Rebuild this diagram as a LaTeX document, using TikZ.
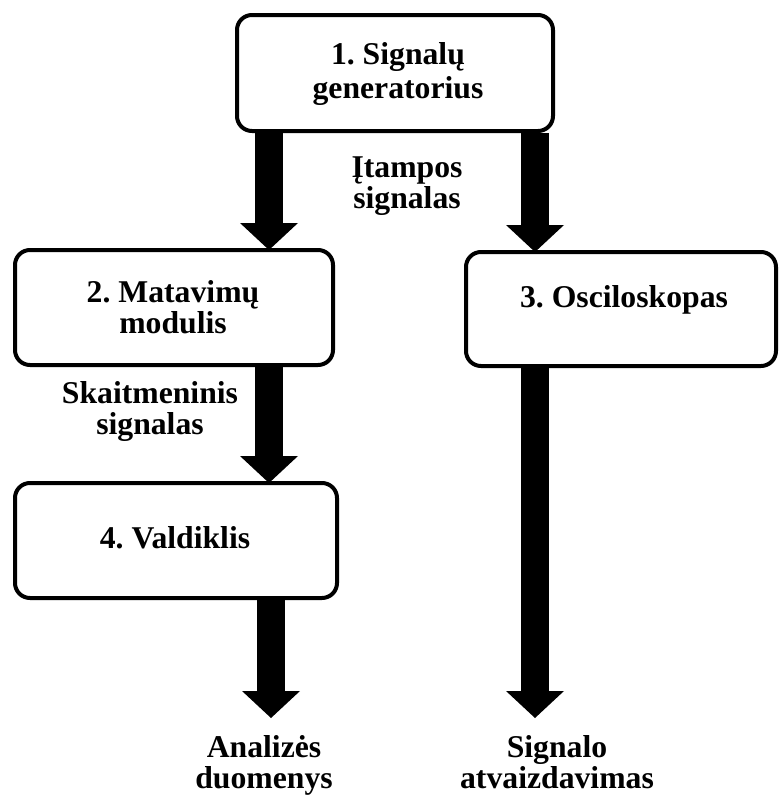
\documentclass[tikz,border=0pt]{standalone}
\usepackage{fontspec}
\setmainfont{Liberation Serif}
\usetikzlibrary{arrows.meta}
\frenchspacing
\newcommand\mytwo[3][0pt]{\begin{tabular}[t]{@{}c@{}}#2\\[#1]#3\end{tabular}}
\begin{document}
\begin{tikzpicture}[x=1pt,y=-1pt,
  box/.style={draw=black, line width=4pt, rounded corners=15pt, fill=white, inner sep=0pt},
  lbl/.style={anchor=base, inner sep=0pt, font=\fontsize{31.7}{31.5}\selectfont\bfseries},
  bigarrow/.style={line width=28pt, line cap=butt,
    -{Triangle[width=58pt,length=27pt,line width=0pt]}}]
\useasboundingbox (0,0) rectangle (779,798);
% boxes
\node[box, minimum width=316pt, minimum height=116pt] (b1) at (395,73) {};
\node[box, minimum width=318pt, minimum height=115pt] (b2) at (174,307.5) {};
\node[box, minimum width=310pt, minimum height=114pt] (b3) at (621,309) {};
\node[box, minimum width=322pt, minimum height=115pt] (b4) at (176,540.5) {};
% column guides and free ends
\coordinate (cA) at (269,0);
\coordinate (cB) at (535,0);
\coordinate (cC) at (271,0);
\coordinate (e4) at (271,718);
\coordinate (e3) at (535,718);
% arrows
\draw[bigarrow, shorten >=-2pt] (b1.south -| cA) -- (b2.north -| cA);
\draw[bigarrow, shorten >=-2pt] (b1.south -| cB) -- (b3.north -| cB);
\draw[bigarrow, shorten >=-2pt] (b2.south -| cA) -- (b4.north -| cA);
\draw[bigarrow] (b4.south -| cC) -- (e4);
\draw[bigarrow] (b3.south -| cB) -- (e3);
% texts
\node[lbl] (t1) at (398,64) {\mytwo[2.5pt]{1. Signalų}{generatorius}};
\node[lbl] (t12) at (407,177) {\mytwo{Įtampos}{signalas}};
\node[lbl] (t2) at (173,302) {\mytwo{2. Matavimų}{modulis}};
\node[lbl] (t3) at (624,307) {3. Osciloskopas};
\node[lbl] (t24) at (150,403) {\mytwo{Skaitmeninis}{signalas}};
\node[lbl] (t4) at (175,548) {4. Valdiklis};
\node[lbl] (t4o) at (264,757) {\mytwo{Analizės}{duomenys}};
\node[lbl] (t3o) at (557,757) {\mytwo{Signalo}{atvaizdavimas}};
\end{tikzpicture}
\end{document}
